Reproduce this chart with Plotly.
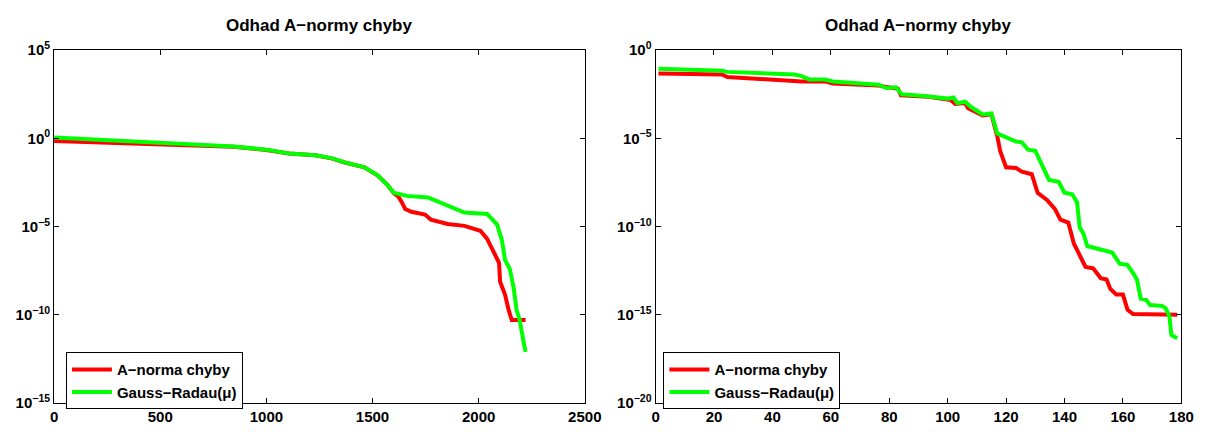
import plotly.graph_objects as go

# ---- data ----
left_red_x = [0, 382, 692, 846, 1000, 1107, 1231, 1307, 1369, 1462, 1523, 1570, 1600, 1622, 1637,
              1654, 1683, 1747, 1775, 1854, 1933, 2008, 2040, 2073, 2096, 2101, 2124, 2142, 2156, 2221]
left_red_y = [7.1e-1, 5.2e-1, 4.0e-1, 3.4e-1, 2.2e-1, 1.4e-1, 1.1e-1, 7.4e-2, 4.3e-2, 2.3e-2, 8.1e-3,
              2.3e-3, 7.9e-4, 5.0e-4, 2.5e-4, 1.0e-4, 6.9e-5, 4.8e-5, 2.5e-5, 1.4e-5, 1.1e-5, 5.8e-6,
              2.0e-6, 3.2e-7, 8.9e-8, 7.4e-9, 1.4e-9, 1.7e-10, 5.0e-11, 5.0e-11]

left_green_x = [0, 382, 692, 846, 1000, 1107, 1231, 1307, 1369, 1462, 1523, 1570, 1600, 1662, 1761,
                1869, 1933, 2040, 2087, 2110, 2124, 2147, 2165, 2179, 2193, 2212, 2221]
left_green_y = [1.12e0, 6.3e-1, 4.3e-1, 3.5e-1, 2.3e-1, 1.4e-1, 1.1e-1, 7.6e-2, 4.4e-2, 2.3e-2, 8.3e-3,
                2.3e-3, 8.3e-4, 5.5e-4, 4.5e-4, 1.3e-4, 6.2e-5, 5.2e-5, 1.3e-5, 1.6e-6, 1.3e-7, 3.9e-8,
                3.2e-9, 1.8e-10, 5.2e-11, 2.7e-12, 7.9e-13]

right_red_x = [1, 22.7, 24.6, 37, 50, 58, 60.7, 76.4, 83, 84, 93.5, 101, 102.6, 106, 107, 112, 115, 117,
               118, 120, 123.4, 125.4, 128.8, 130.8, 134, 136.7, 138.6, 141.3, 143.2, 145.8, 147.2,
               149.8, 152.4, 154.4, 155.7, 157.7, 160, 161.6, 163.5, 178.6]
right_red_y = [4.8e-2, 4.2e-2, 3.0e-2, 2.2e-2, 1.7e-2, 1.7e-2, 1.3e-2, 9.8e-3, 6.5e-3, 2.8e-3, 2.3e-3,
               1.5e-3, 9.1e-4, 1.0e-3, 5.2e-4, 2.0e-4, 2.3e-4, 1.3e-5, 1.9e-6, 2.3e-7, 2.1e-7, 1.3e-7,
               9.3e-8, 8.3e-9, 3.2e-9, 1.0e-9, 2.5e-10, 1.7e-10, 1.1e-11, 1.5e-12, 5.2e-13, 4.3e-13,
               1.2e-13, 1.0e-13, 2.9e-14, 1.4e-14, 1.4e-14, 1.9e-15, 1.1e-15, 1.0e-15]

right_green_x = [1, 22.7, 24.6, 47.6, 50, 52.6, 58, 60.7, 76.4, 79, 82.3, 84.3, 92, 100, 102, 103.3, 106,
                 108, 112, 115, 117, 119.6, 123.4, 125.4, 127.5, 130, 132, 134.7, 138, 140, 142.6, 144.3,
                 145.2, 146.5, 147.8, 151.1, 153.7, 156.3, 158.9, 161.6, 163.5, 164.8, 166.1, 168, 169.3,
                 173.3, 174.6, 175.9, 176.6, 178.6]
right_green_y = [8.9e-2, 6.9e-2, 5.9e-2, 4.2e-2, 3.4e-2, 2.2e-2, 2.2e-2, 1.7e-2, 1.1e-2, 7.2e-3, 7.9e-3,
                 3.2e-3, 2.5e-3, 1.8e-3, 2.1e-3, 1.0e-3, 1.2e-3, 6.0e-4, 2.3e-4, 2.6e-4, 1.9e-5, 1.2e-5,
                 6.6e-6, 6.0e-6, 2.3e-6, 2.0e-6, 3.5e-7, 4.4e-8, 3.5e-8, 8.3e-9, 6.8e-9, 2.4e-9, 9.1e-11,
                 4.0e-11, 7.9e-12, 5.5e-12, 4.2e-12, 3.4e-12, 7.9e-13, 6.5e-13, 2.3e-13, 1.0e-13, 8.3e-15,
                 6.8e-15, 3.6e-15, 3.2e-15, 2.4e-15, 8.5e-16, 7.1e-17, 4.7e-17]

title_text = "Odhad A\u2212normy chyby"
series_names = ["A\u2212norma chyby", "Gauss\u2212Radau(\u03bc)"]
series_colors = ["#ff0000", "#00ff00"]

left_xticks = [0, 500, 1000, 1500, 2000, 2500]
right_xticks = [0, 20, 40, 60, 80, 100, 120, 140, 160, 180]
left_yexp = [5, 0, -5, -10, -15]
right_yexp = [0, -5, -10, -15, -20]

FONT = "Liberation Sans, Arial, Helvetica, sans-serif"
W, H = 1217, 432

fig = go.Figure()
fig.add_trace(go.Scatter(x=left_red_x, y=left_red_y, mode="lines", name=series_names[0],
                         line=dict(color=series_colors[0], width=4), xaxis="x", yaxis="y", legend="legend"))
fig.add_trace(go.Scatter(x=left_green_x, y=left_green_y, mode="lines", name=series_names[1],
                         line=dict(color=series_colors[1], width=4), xaxis="x", yaxis="y", legend="legend"))
fig.add_trace(go.Scatter(x=right_red_x, y=right_red_y, mode="lines", name=series_names[0],
                         line=dict(color=series_colors[0], width=4), xaxis="x2", yaxis="y2", legend="legend2"))
fig.add_trace(go.Scatter(x=right_green_x, y=right_green_y, mode="lines", name=series_names[1],
                         line=dict(color=series_colors[1], width=4), xaxis="x2", yaxis="y2", legend="legend2"))

tickfont = dict(family=FONT, size=15, color="black", weight="bold")
common = dict(showline=True, linecolor="black", linewidth=1, mirror="allticks", ticks="inside",
              ticklen=5, tickcolor="black", showgrid=False, zeroline=False, tickfont=tickfont)

ydom = [22 / H, 391 / H]
xdom1 = [51 / W, 591 / W]
xdom2 = [663 / W, 1198 / W]

def ylabels(exps):
    return [10.0 ** e for e in exps], ["10<sup>%d</sup>" % e if e >= 0 else "10<sup>\u2212%d</sup>" % -e for e in exps]

lv, lt = ylabels(left_yexp)
rv, rt = ylabels(right_yexp)

legfont = dict(family=FONT, size=15, color="black", weight="bold")

fig.update_layout(
    width=W, height=H, margin=dict(l=0, r=0, t=0, b=0),
    paper_bgcolor="white", plot_bgcolor="white",
    font=dict(family=FONT, color="black"),
    xaxis=dict(domain=xdom1, range=[0, 2500], tickmode="array", tickvals=left_xticks,
               ticktext=[str(v) for v in left_xticks], anchor="y", **common),
    yaxis=dict(domain=ydom, type="log", range=[-15, 5], tickmode="array", tickvals=lv, ticktext=lt,
               anchor="x", **common),
    xaxis2=dict(domain=xdom2, range=[0, 180], tickmode="array", tickvals=right_xticks,
                ticktext=[str(v) for v in right_xticks], anchor="y2", **common),
    yaxis2=dict(domain=ydom, type="log", range=[-20, 0], tickmode="array", tickvals=rv, ticktext=rt,
                anchor="x2", **common),
    legend=dict(x=63 / W, y=1 - 357 / H, xanchor="left", yanchor="top", bgcolor="white",
                bordercolor="black", borderwidth=1, font=legfont, itemwidth=40, tracegroupgap=0),
    legend2=dict(x=671 / W, y=1 - 357 / H, xanchor="left", yanchor="top", bgcolor="white",
                 bordercolor="black", borderwidth=1, font=legfont, itemwidth=40, tracegroupgap=0),
    showlegend=True,
)

for dom in (xdom1, xdom2):
    fig.add_annotation(text="<b>" + title_text + "</b>", x=(dom[0] + dom[1]) / 2, y=1 - 15 / H,
                       xref="paper", yref="paper", xanchor="center", yanchor="middle", showarrow=False,
                       font=dict(family=FONT, size=17, color="black"))

fig.write_html("out.html")
